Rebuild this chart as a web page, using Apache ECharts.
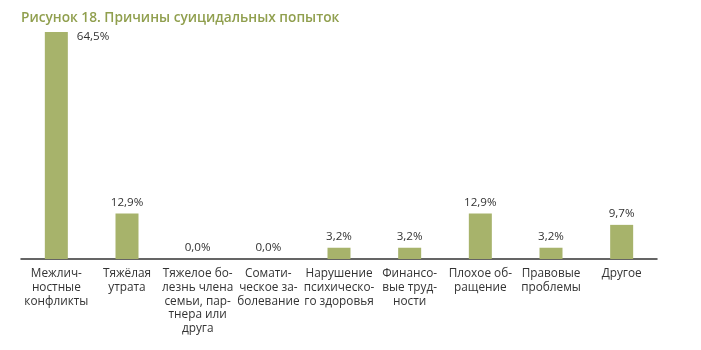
<!DOCTYPE html>
<html>
<head>
<meta charset="utf-8">
<script src="https://cdn.jsdelivr.net/npm/echarts@6/dist/echarts.min.js"></script>
<style>html,body{margin:0;padding:0;background:#fff}#c{width:701px;height:350px}</style>
</head>
<body>
<div id="c"></div>
<script>
const titleText = 'Рисунок 18. Причины суицидальных попыток';
const categories = [
  'Межлич-\nностные\nконфликты',
  'Тяжёлая\nутрата',
  'Тяжелое бо-\nлезнь члена\nсемьи, пар-\nтнера или\nдруга',
  'Сомати-\nческое за-\nболевание',
  'Нарушение\nпсихическо-\nго здоровья',
  'Финансо-\nвые труд-\nности',
  'Плохое об-\nращение',
  'Правовые\nпроблемы',
  'Другое'
];
const values = [64.5, 12.9, 0.0, 0.0, 3.2, 3.2, 12.9, 3.2, 9.7];

const chart = echarts.init(document.getElementById('c'));
const fontFam = '"Open Sans", "Noto Sans", sans-serif';
chart.setOption({
  animation: false,
  title: {
    text: titleText,
    left: 16, top: 6,
    textStyle: {color: '#909f4e', fontSize: 13.7, fontWeight: 600, fontFamily: fontFam}
  },
  grid: {left: 21, right: 44, top: 32, bottom: 91},
  xAxis: {
    type: 'category',
    data: categories,
    axisLine: {lineStyle: {color: '#333', width: 1.5}},
    axisTick: {show: false},
    axisLabel: {interval: 0, margin: 8, color: '#333', fontSize: 11.8, lineHeight: 13.7, fontFamily: fontFam}
  },
  yAxis: {type: 'value', min: 0, max: 64.5, show: false, splitLine: {show: false}},
  series: [{
    type: 'bar',
    barWidth: 23,
    itemStyle: {color: '#a7b36b'},
    data: values.map((v, i) => i === 0 ? {value: v, label: {position: [32, -1]}} : v),
    label: {
      show: true, position: 'top', distance: 5,
      color: '#333', fontSize: 11.6, fontFamily: fontFam,
      formatter: p => p.value.toFixed(1).replace('.', ',') + '%'
    }
  }]
});
</script>
</body>
</html>
